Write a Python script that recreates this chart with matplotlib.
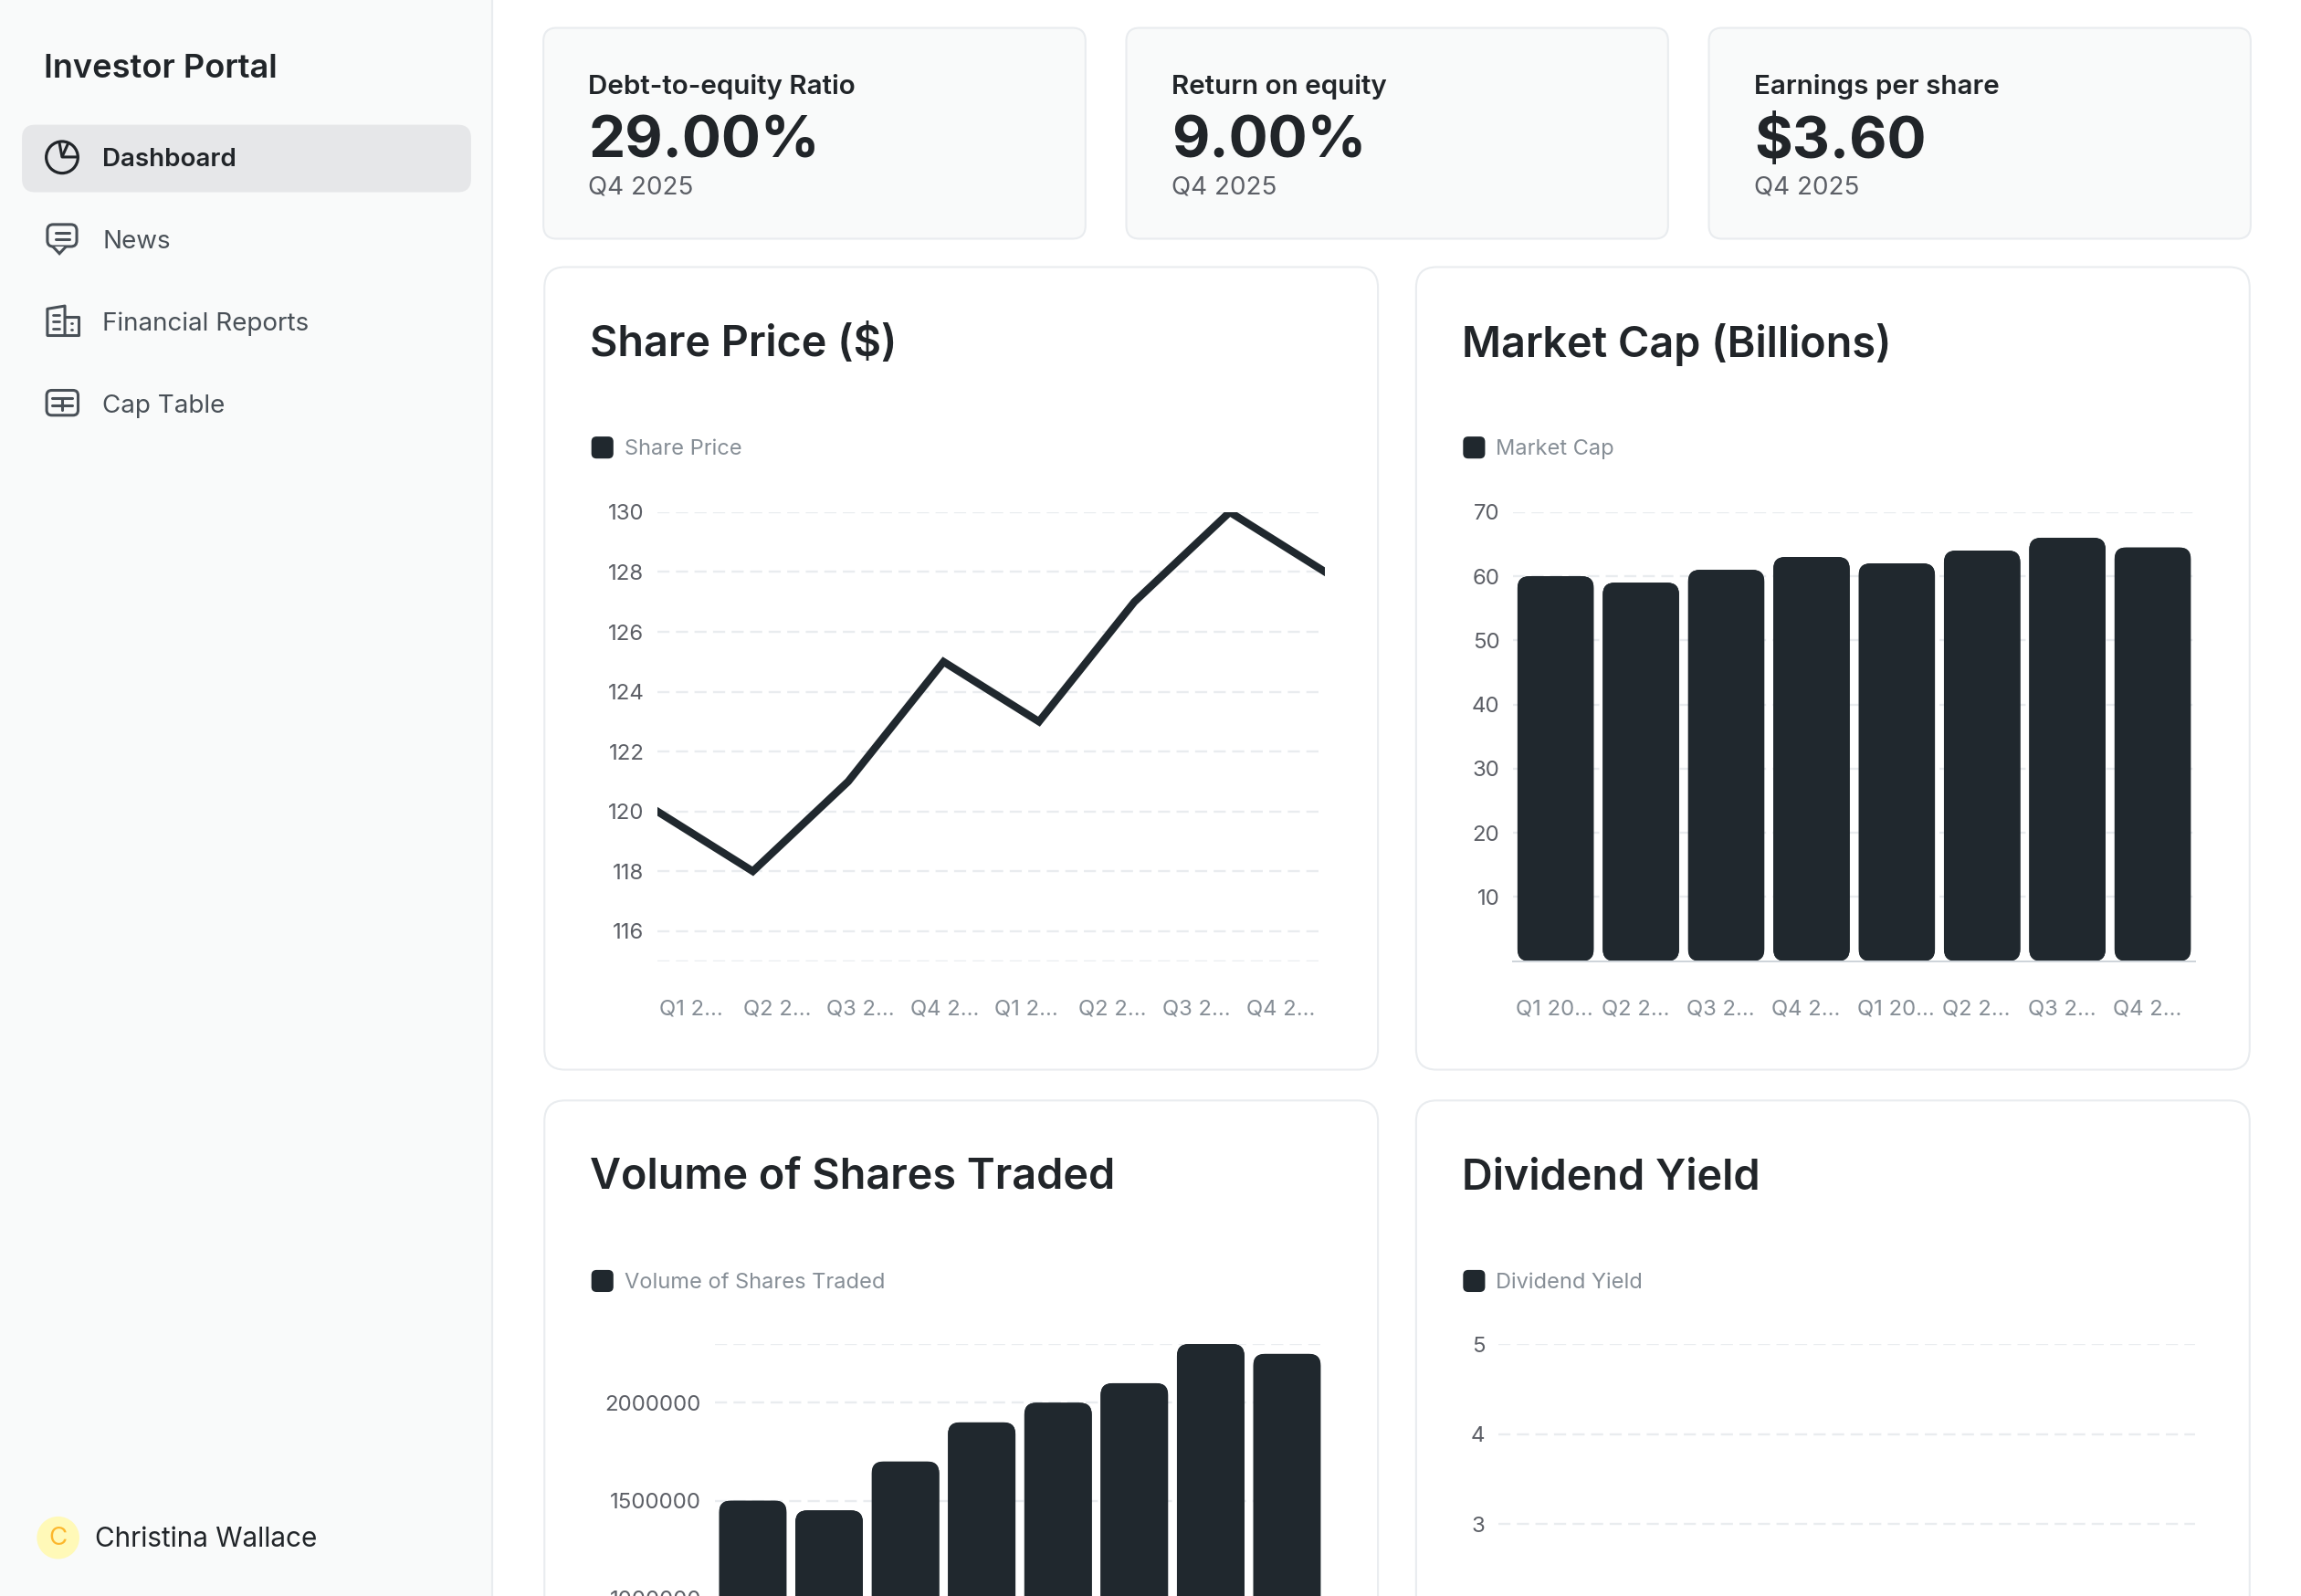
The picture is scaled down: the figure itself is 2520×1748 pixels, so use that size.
import matplotlib
matplotlib.use("Agg")
import matplotlib.pyplot as plt
from matplotlib.patches import FancyBboxPatch, Circle, Rectangle, Polygon

plt.rcParams['font.family'] = ['Inter', 'DejaVu Sans']

# ---------- data ----------
nav_items = ["Dashboard", "News", "Financial Reports", "Cap Table"]
kpi_titles = ["Debt-to-equity Ratio", "Return on equity", "Earnings per share"]
kpi_values = ["29.00%", "9.00%", "$3.60"]
kpi_period = ["Q4 2025", "Q4 2025", "Q4 2025"]

labels_a = ["Q1 2...", "Q2 2...", "Q3 2...", "Q4 2...", "Q1 2...", "Q2 2...", "Q3 2...", "Q4 2..."]
labels_b = ["Q1 20...", "Q2 2...", "Q3 2...", "Q4 2...", "Q1 20...", "Q2 2...", "Q3 2...", "Q4 2..."]

share_price = [120, 118, 121, 125, 123, 127, 130, 128]
share_ticks = [116, 118, 120, 122, 124, 126, 128, 130]
market_cap = [60, 59, 61, 63, 62, 64, 66, 64.5]
market_ticks = [10, 20, 30, 40, 50, 60, 70]
volume = [1500000, 1450000, 1700000, 1900000, 2000000, 2100000, 2300000, 2250000]
volume_ticks = [1000000, 1500000, 2000000]
dividend_ticks = [3, 4, 5]

# ---------- style ----------
W, H = 1568.0, 1087.7
S = 2520 / W
DARK = "#212529"
BAR = "#20282e"
BORDER = "#e9ecef"
GRID = "#e9ecef"
PANEL = "#f9fafa"
TICK = "#5c5f66"
MUTED = "#868e96"
GRID_LS = (0, (5.6, 3.0))

fig = plt.figure(figsize=(25.2, 17.48), dpi=100, facecolor="white")
bg = fig.add_axes([0, 0, 1, 1], zorder=0)
bg.set_xlim(0, W)
bg.set_ylim(H, 0)
bg.axis("off")


def rrect(x0, y0, x1, y1, r, fc, ec="none", lw=0.0, ax=bg, z=1):
    p = FancyBboxPatch((x0, y0), x1 - x0, y1 - y0,
                       boxstyle=f"round,pad=0,rounding_size={r}",
                       fc=fc, ec=ec, lw=lw, zorder=z)
    ax.add_patch(p)
    return p


def poly(pts, color, lw=2.2, z=3):
    xs, ys = zip(*pts)
    bg.plot(xs, ys, color=color, lw=lw, solid_capstyle="round", solid_joinstyle="round", zorder=z)


# sidebar
bg.add_patch(Rectangle((0, 0), 335, H, fc=PANEL, ec="none", zorder=0.5))
bg.plot([335.3, 335.3], [0, H], color=BORDER, lw=1.6, zorder=0.6)
bg.text(30, 46.8, "Investor Portal", fontsize=26, fontweight="semibold", color=DARK, va="center", ha="left")
rrect(15, 85, 321, 131, 9, "#e6e7e9")

nav_y = [109, 165, 221, 277]
for name, y, i in zip(nav_items, nav_y, range(4)):
    bg.text(70, y, name, fontsize=20, fontweight="semibold" if i == 0 else "normal",
            color=DARK if i == 0 else "#495057", va="center", ha="left")

# icons
ic_d = DARK
bg.add_patch(Circle((42.3, 107.2), 10.8, fc="none", ec=ic_d, lw=2.3, zorder=3))
poly([(40.5, 97.5), (42.3, 107), (52.8, 107)], ic_d)
poly([(46.5, 97.5), (42.5, 106.5)], ic_d)

ic = "#495057"
rrect(32.3, 153, 52.3, 168, 4, "none", ic, 2.2, z=3)
bg.add_patch(Polygon([(36, 168), (40.5, 172.8), (45, 168)], closed=False, fc=PANEL, ec=ic, lw=2.2, zorder=3.5))
poly([(38, 158.8), (47, 158.8)], ic)
poly([(38, 162.8), (47, 162.8)], ic)

poly([(32.3, 228.5), (32.3, 210.5), (44.2, 208.5), (44.2, 228.5)], ic)
poly([(44.2, 215.8), (53.4, 215.8), (53.4, 228.5), (32.3, 228.5)], ic)
for yy in (214.5, 219.2, 224):
    poly([(36, yy), (40.6, yy)], ic, lw=2.0)
for yy in (220, 224.5):
    poly([(48.6, yy), (49.2, yy)], ic, lw=2.0)

rrect(31.8, 266, 53.2, 283, 3.5, "none", ic, 2.2, z=3)
poly([(35.4, 271.5), (49.3, 271.5)], ic)
poly([(35.4, 276), (49.3, 276)], ic)
poly([(42.4, 271.5), (42.4, 279.6)], ic)

# profile
bg.add_patch(Circle((39.6, 1048), 14.5, fc="#fff9b8", ec="none", zorder=2))
bg.text(39.6, 1048.5, "C", fontsize=20, color="#fcb72c", ha="center", va="center", zorder=3)
bg.text(65, 1049, "Christina Wallace", fontsize=21.4, color=DARK, ha="left", va="center")

# KPI cards
for x0, x1, title, val, per in zip([370.3, 767.5, 1164.5], [739.7, 1136.7, 1533.7], kpi_titles, kpi_values, kpi_period):
    rrect(x0, 19, x1, 162.7, 9, PANEL, BORDER, 1.5)
    bg.text(x0 + 30.7, 59, title, fontsize=21.3, fontweight="semibold", color=DARK, ha="left", va="center")
    bg.text(x0 + 30.7, 97.3, val, fontsize=46, fontweight="bold", color=DARK, ha="left", va="center")
    bg.text(x0 + 30.7, 128, per, fontsize=20, color=TICK, ha="left", va="center")

# chart cards
cards = [(371, 182, 939, 729, "Share Price ($)", "Share Price"),
         (965, 182, 1533, 729, "Market Cap (Billions)", "Market Cap"),
         (371, 750, 939, 1300, "Volume of Shares Traded", "Volume of Shares Traded"),
         (965, 750, 1533, 1300, "Dividend Yield", "Dividend Yield")]
for x0, y0, x1, y1, title, legend in cards:
    rrect(x0, y0, x1, y1, 14, "white", BORDER, 1.5)
    bg.text(x0 + 31, y0 + 53, title, fontsize=33.7, fontweight="semibold", color=DARK, ha="left", va="center")
    rrect(x0 + 32, y0 + 115.5, x0 + 47, y0 + 130.5, 3.5, BAR)
    bg.text(x0 + 54.5, y0 + 124, legend, fontsize=17, color=MUTED, ha="left", va="center")


def chart_axes(x0, y0, x1, y1):
    ax = fig.add_axes([x0 / W, 1 - y1 / H, (x1 - x0) / W, (y1 - y0) / H], zorder=2)
    ax.patch.set_alpha(0)
    for s in ax.spines.values():
        s.set_visible(False)
    ax.tick_params(axis="both", length=0)
    ax.tick_params(axis="y", labelsize=17.3, labelcolor=TICK, pad=10.5)
    ax.tick_params(axis="x", labelsize=17.2, labelcolor=MUTED, pad=30)
    ax.grid(axis="y", color=GRID, lw=1.7, ls=GRID_LS)
    ax.set_axisbelow(True)
    return ax


def rounded_bars(ax, values, width, radius_px, x0_px, x1_px, y0_px, y1_px, ymax, n):
    xs = list(range(n))
    bars = ax.bar(xs, values, width=width, color=BAR, zorder=2)
    xpp = n / (x1_px - x0_px) / S
    ypp = ymax / (y1_px - y0_px) / S
    for rect in bars:
        fancy = FancyBboxPatch((rect.get_x(), rect.get_y()), rect.get_width(), rect.get_height(),
                               boxstyle=f"round,pad=0,rounding_size={radius_px * xpp}",
                               mutation_aspect=ypp / xpp, fc=BAR, ec="none", zorder=2,
                               transform=ax.transData)
        ax.add_patch(fancy)
        rect.set_clip_path(fancy)


def xlabels(ax, starts, labels):
    ax.set_xticks(starts)
    ax.set_xticklabels(labels, ha="left")


# chart 1: share price
ax1 = chart_axes(448, 349, 903, 655)
ax1.plot(range(8), share_price, color=BAR, lw=6, solid_joinstyle="miter", zorder=3)
ax1.set_xlim(0, 7)
ax1.set_ylim(115, 130)
ax1.set_yticks([115] + share_ticks)
ax1.set_yticklabels([""] + [str(t) for t in share_ticks])
xlabels(ax1, [(449 + 57.2 * i - 448) / 65 for i in range(8)], labels_a)

# chart 2: market cap
ax2 = chart_axes(1031, 349, 1496, 655)
rounded_bars(ax2, market_cap, 52 / 58.1, 13, 1031, 1496, 349, 655, 70, 8)
ax2.set_xlim(-0.5, 7.5)
ax2.set_ylim(0, 70)
ax2.set_yticks(market_ticks)
ax2.spines["bottom"].set_visible(True)
ax2.spines["bottom"].set_color("#ced4da")
ax2.spines["bottom"].set_linewidth(1.44)
xlabels(ax2, [i - 0.5 + 2 / 58.1 for i in range(8)], labels_b)

# chart 3: volume (runs past the bottom edge of the page)
ax3 = chart_axes(487, 916, 903, 1222.7)
rounded_bars(ax3, volume, 46 / 52, 13, 487, 903, 916, 1222.7, 2300000, 8)
ax3.set_xlim(-0.5, 7.5)
ax3.set_ylim(0, 2300000)
ax3.set_yticks(volume_ticks + [2300000])
ax3.set_yticklabels([str(t) for t in volume_ticks] + [""])
ax3.set_xticks([])

# chart 4: dividend yield
ax4 = chart_axes(1021, 916, 1496, 1222.7)
ax4.set_xlim(-0.5, 7.5)
ax4.set_ylim(0, 5)
ax4.set_yticks(dividend_ticks)
ax4.set_xticks([])

fig.savefig("out.png", dpi=100)
